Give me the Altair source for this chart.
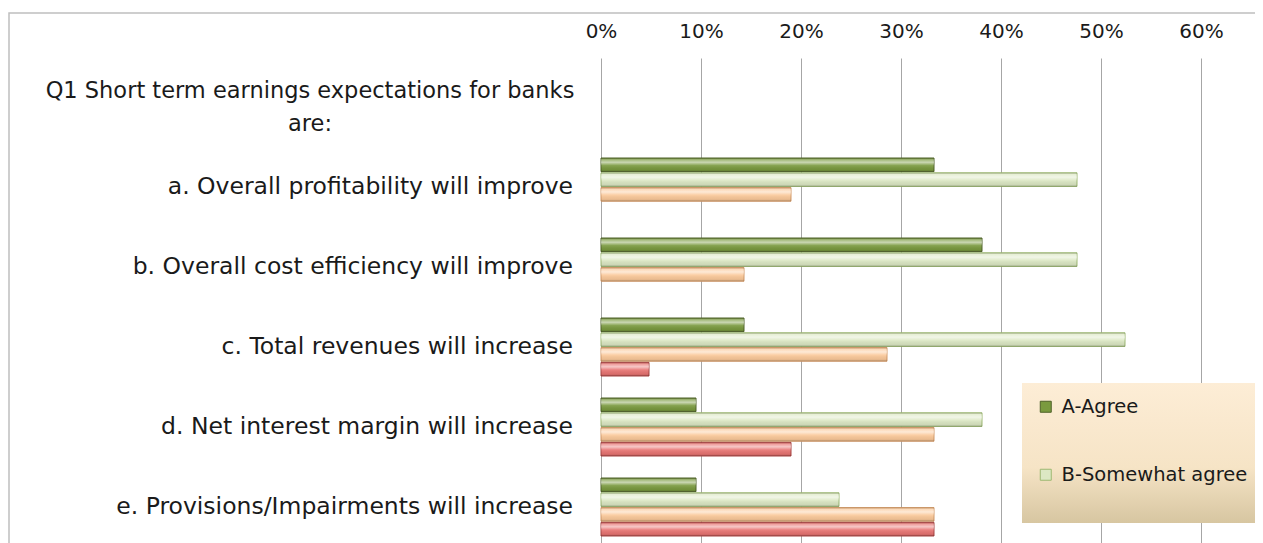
import altair as alt
import pandas as pd

categories = [
    "Q1 Short term earnings expectations for banks are:",
    "a. Overall profitability will improve",
    "b. Overall cost efficiency will improve",
    "c. Total revenues will increase",
    "d. Net interest margin will increase",
    "e. Provisions/Impairments will increase",
]
series = ["A-Agree", "B-Somewhat agree", "C-Somewhat disagree", "D-Disagree"]
agree = [None, 0.333, 0.381, 0.143, 0.095, 0.095]
somewhat_agree = [None, 0.476, 0.476, 0.524, 0.381, 0.238]
somewhat_disagree = [None, 0.190, 0.143, 0.286, 0.333, 0.333]
disagree = [None, None, None, 0.048, 0.190, 0.333]
tick_values = [0, 0.1, 0.2, 0.3, 0.4, 0.5, 0.6]
legend_shown = ["A-Agree", "B-Somewhat agree"]

fills = ["#7A9A3F", "#DCE8C4", "#FBC99A", "#E87472"]
strokes = ["#4F6228", "#9DB872", "#D39A68", "#A94442"]

FONT = "DejaVu Sans"

rows = []
for s, vals in zip(series, [agree, somewhat_agree, somewhat_disagree, disagree]):
    for c, v in zip(categories, vals):
        if v is not None:
            rows.append({"category": c, "series": s, "value": v})
df = pd.DataFrame(rows)

y_scale = alt.Scale(domain=categories, paddingInner=0.275, paddingOuter=0.25, range=[0, 498])
x_scale = alt.Scale(domain=[0, 0.6])
off_scale = alt.Scale(domain=series, paddingInner=0.08)
x_axis = alt.Axis(
    orient="top", format=".0%", values=tick_values, grid=True,
    gridColor="#A6A6A6", gridWidth=1, domain=False, ticks=False,
    labelFont=FONT, labelFontSize=20, labelColor="#1A1A1A",
    labelPadding=17, labelFlush=False, title=None,
)

frame = alt.Chart(pd.DataFrame({"d": [0]})).mark_rect(
    fillOpacity=0, stroke="#BFBFBF", strokeWidth=1.5
).encode(x=alt.value(-592), x2=alt.value(900), y=alt.value(-45), y2=alt.value(700))

legend_bg = alt.Chart(pd.DataFrame({"d": [0]})).mark_rect(
    fill=alt.LinearGradient(
        gradient="linear", x1=0, x2=0, y1=0, y2=1,
        stops=[
            alt.GradientStop(color="#FDEDD6", offset=0),
            alt.GradientStop(color="#F6E4C6", offset=0.6),
            alt.GradientStop(color="#D7C6A1", offset=1),
        ],
    ),
).encode(x=alt.value(421), x2=alt.value(800), y=alt.value(325), y2=alt.value(465))

bars = alt.Chart(df).mark_bar(strokeWidth=1).encode(
    x=alt.X("value:Q", scale=x_scale, axis=x_axis),
    y=alt.Y("category:N", scale=y_scale, axis=None),
    yOffset=alt.YOffset("series:N", scale=off_scale),
    color=alt.Color(
        "series:N",
        scale=alt.Scale(domain=series, range=fills),
        legend=alt.Legend(
            orient="none", legendX=435, legendY=339, values=legend_shown,
            padding=0, symbolType="square", symbolSize=121,
            symbolStrokeColor="#5E7A30", symbolStrokeWidth=1,
            labelFont=FONT, labelFontSize=19.5, labelColor="#1A1A1A",
            labelOffset=6, rowPadding=47, labelLimit=400, title=None,
        ),
    ),
    stroke=alt.Stroke("series:N", scale=alt.Scale(domain=series, range=strokes), legend=None),
)

sheen = alt.Chart(df).mark_bar(
    strokeWidth=0,
    fill=alt.LinearGradient(
        gradient="linear", x1=0, x2=0, y1=0, y2=1,
        stops=[
            alt.GradientStop(color="rgba(0,0,0,0.10)", offset=0),
            alt.GradientStop(color="rgba(255,255,255,0.30)", offset=0.12),
            alt.GradientStop(color="rgba(255,255,255,0.60)", offset=0.32),
            alt.GradientStop(color="rgba(255,255,255,0.10)", offset=0.55),
            alt.GradientStop(color="rgba(0,0,0,0.06)", offset=0.85),
            alt.GradientStop(color="rgba(0,0,0,0.22)", offset=1),
        ],
    ),
).encode(
    x=alt.X("value:Q", scale=x_scale, axis=x_axis),
    y=alt.Y("category:N", scale=y_scale, axis=None),
    yOffset=alt.YOffset("series:N", scale=off_scale),
)

label_df = pd.DataFrame({"category": categories[1:]})
labels = alt.Chart(label_df).mark_text(
    align="right", baseline="middle", font=FONT, fontSize=23.5, color="#1A1A1A"
).encode(
    y=alt.Y("category:N", scale=y_scale, axis=None),
    x=alt.value(-28),
    text="category:N",
)

q1_df = pd.DataFrame({
    "category": [categories[0]],
    "label": [categories[0].replace(" are:", "\nare:")],
})
q1 = alt.Chart(q1_df).mark_text(
    align="center", baseline="middle", font=FONT, fontSize=22.5, color="#1A1A1A",
    lineBreak="\n", lineHeight=33, dy=-16,
).encode(
    y=alt.Y("category:N", scale=y_scale, axis=None),
    x=alt.value(-291),
    text="label:N",
)

chart = alt.layer(frame, bars, sheen, legend_bg, labels, q1).properties(
    width=600,
    height=485,
    autosize=alt.AutoSizeParams(type="none"),
    padding={"left": 593, "top": 50, "right": 54, "bottom": 0},
).configure_view(stroke=None)

chart.save("out.html", embed_options={"renderer": "svg", "actions": False})
